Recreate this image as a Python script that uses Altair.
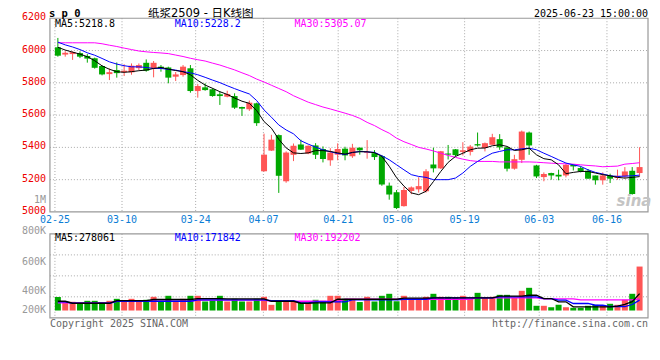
import altair as alt
import pandas as pd

# ---------------- data ----------------
tick_labels = ["02-25", "03-10", "03-24", "04-07", "04-21", "05-06", "05-19", "06-03", "06-16"]
tick_pos = [-0.4, 8.71, 18.71, 27.91, 38.07, 46.17, 55.24, 65.37, 74.57]
price_ticks = [5000, 5200, 5400, 5600, 5800, 6000, 6200]

opens = [6020, 5975, 5978, 5984, 5966, 5952, 5904, 5854, 5879, 5866,
         5865, 5891, 5924, 5889, 5900, 5895, 5838, 5848, 5890, 5749,
         5772, 5760, 5729, 5714, 5718, 5650, 5636, 5673, 5252, 5380,
         5476, 5190, 5354, 5418, 5362, 5412, 5390, 5320, 5355, 5392,
         5345, 5398, 5365, 5364, 5346, 5163, 5122, 5036, 5130, 5140,
         5128, 5294, 5270, 5362, 5388, 5372, 5372, 5420, 5396, 5416,
         5451, 5400, 5268, 5323, 5492, 5288, 5216, 5241, 5231, 5226,
         5292, 5272, 5255, 5226, 5196, 5224, 5210, 5220, 5255, 5241]
highs = [6078, 5996, 5996, 5995, 5978, 5956, 5908, 5889, 5926, 5915,
         5920, 5920, 5945, 5935, 5910, 5900, 5867, 5910, 5910, 5792,
         5797, 5766, 5745, 5751, 5735, 5652, 5690, 5677, 5485, 5478,
         5480, 5375, 5424, 5448, 5412, 5426, 5406, 5395, 5425, 5404,
         5422, 5400, 5445, 5383, 5353, 5182, 5136, 5155, 5158, 5215,
         5265, 5398, 5378, 5415, 5390, 5432, 5415, 5492, 5430, 5484,
         5482, 5402, 5354, 5504, 5498, 5292, 5245, 5243, 5262, 5298,
         5294, 5282, 5266, 5226, 5245, 5237, 5262, 5278, 5278, 5401]
lows = [5962, 5962, 5942, 5953, 5925, 5888, 5846, 5817, 5832, 5842,
        5850, 5879, 5869, 5834, 5869, 5797, 5811, 5838, 5739, 5708,
        5751, 5714, 5663, 5710, 5638, 5595, 5626, 5533, 5250, 5378,
        5118, 5181, 5315, 5385, 5358, 5328, 5307, 5286, 5320, 5320,
        5335, 5355, 5330, 5322, 5162, 5076, 5018, 5033, 5110, 5120,
        5120, 5245, 5266, 5325, 5345, 5350, 5350, 5405, 5375, 5416,
        5385, 5251, 5262, 5303, 5354, 5210, 5190, 5200, 5196, 5214,
        5257, 5245, 5206, 5169, 5169, 5179, 5200, 5206, 5107, 5220]
closes = [5968, 5986, 5990, 5962, 5950, 5893, 5852, 5866, 5860, 5875,
          5906, 5910, 5875, 5924, 5889, 5832, 5852, 5900, 5749, 5780,
          5755, 5718, 5718, 5731, 5646, 5640, 5677, 5550, 5355, 5448,
          5224, 5368, 5410, 5386, 5410, 5354, 5328, 5368, 5390, 5350,
          5398, 5382, 5370, 5340, 5170, 5108, 5024, 5136, 5152, 5160,
          5252, 5270, 5376, 5355, 5352, 5382, 5405, 5412, 5426, 5463,
          5400, 5268, 5327, 5498, 5412, 5220, 5235, 5226, 5220, 5292,
          5282, 5251, 5206, 5196, 5226, 5206, 5224, 5251, 5111, 5278]
ma5 = [6020, 6003, 5990, 5978, 5962, 5937, 5905, 5884, 5869, 5865,
       5869, 5875, 5879, 5889, 5895, 5885, 5876, 5869, 5850, 5815,
       5786, 5766, 5745, 5728, 5706, 5686, 5673, 5628, 5560, 5519,
       5450, 5397, 5366, 5362, 5366, 5380, 5380, 5375, 5366, 5358,
       5369, 5373, 5373, 5367, 5344, 5283, 5212, 5160, 5118, 5107,
       5128, 5188, 5251, 5307, 5344, 5364, 5385, 5395, 5396, 5410,
       5416, 5406, 5381, 5385, 5395, 5354, 5330, 5323, 5292, 5237,
       5245, 5251, 5251, 5241, 5231, 5224, 5214, 5210, 5214, 5219]
ma10 = [6052, 6035, 6022, 6006, 5986, 5971, 5951, 5930, 5916, 5906,
        5899, 5899, 5895, 5889, 5889, 5883, 5879, 5869, 5862, 5850,
        5834, 5817, 5801, 5782, 5764, 5747, 5731, 5690, 5632, 5587,
        5539, 5508, 5484, 5441, 5420, 5402, 5385, 5373, 5362, 5356,
        5368, 5375, 5372, 5369, 5348, 5323, 5292, 5261, 5231, 5220,
        5214, 5200, 5200, 5200, 5210, 5241, 5282, 5313, 5340, 5364,
        5375, 5385, 5385, 5391, 5395, 5385, 5364, 5344, 5323, 5303,
        5292, 5282, 5261, 5245, 5235, 5224, 5220, 5222, 5224, 5228]
ma30 = [6048, 6048, 6048, 6048, 6048, 6048, 6042, 6033, 6025, 6015,
        6006, 5997, 5992, 5988, 5985, 5981, 5972, 5963, 5952, 5943,
        5935, 5922, 5910, 5895, 5880, 5862, 5845, 5823, 5805, 5785,
        5765, 5745, 5720, 5700, 5680, 5665, 5650, 5638, 5625, 5612,
        5598, 5580, 5555, 5535, 5510, 5488, 5457, 5435, 5418, 5400,
        5390, 5378, 5364, 5350, 5338, 5327, 5318, 5313, 5313, 5313,
        5310, 5310, 5310, 5310, 5310, 5308, 5305, 5302, 5300, 5298,
        5296, 5292, 5288, 5285, 5280, 5282, 5284, 5296, 5300, 5305]
volumes = [223000, 144000, 144000, 124000, 160000, 160000, 132000, 160000, 193000, 160000,
           193000, 149000, 177000, 226000, 149000, 243000, 149000, 193000, 243000, 243000,
           149000, 165000, 243000, 149000, 193000, 149000, 149000, 193000, 226000, 94000,
           140000, 140000, 140000, 124000, 124000, 177000, 160000, 243000, 243000, 193000,
           193000, 140000, 226000, 149000, 243000, 276000, 153000, 243000, 193000, 182000,
           226000, 276000, 226000, 226000, 210000, 243000, 193000, 292000, 215000, 226000,
           259000, 259000, 210000, 325000, 375000, 78000, 78000, 54000, 94000, 54000,
           45000, 45000, 78000, 94000, 78000, 111000, 94000, 177000, 276000, 726000]
vol_ma5 = [153000, 153000, 120000, 120000, 120000, 120000, 120000, 120000, 165000, 165000,
           165000, 165000, 165000, 182000, 182000, 182000, 182000, 182000, 182000, 198000,
           198000, 198000, 198000, 193000, 193000, 193000, 193000, 193000, 193000, 153000,
           153000, 153000, 153000, 120000, 120000, 127000, 127000, 127000, 186000, 186000,
           186000, 186000, 186000, 186000, 186000, 186000, 186000, 203000, 203000, 203000,
           203000, 210000, 210000, 210000, 210000, 210000, 210000, 210000, 210000, 210000,
           236000, 236000, 236000, 236000, 252000, 252000, 198000, 198000, 144000, 144000,
           61000, 61000, 61000, 61000, 61000, 61000, 74000, 100000, 147000, 278061]
vol_ma10 = [144000, 144000, 120000, 120000, 120000, 120000, 120000, 120000, 153000, 153000,
            153000, 153000, 153000, 153000, 153000, 153000, 153000, 153000, 153000, 177000,
            177000, 177000, 177000, 177000, 177000, 177000, 177000, 177000, 177000, 165000,
            165000, 165000, 165000, 127000, 127000, 144000, 144000, 144000, 144000, 144000,
            177000, 177000, 177000, 177000, 177000, 177000, 177000, 186000, 186000, 186000,
            186000, 210000, 210000, 210000, 210000, 210000, 210000, 210000, 210000, 210000,
            226000, 226000, 226000, 226000, 226000, 226000, 198000, 198000, 170000, 170000,
            116000, 116000, 116000, 87000, 87000, 66000, 66000, 66000, 99000, 171842]
vol_ma30 = [127000, 127000, 127000, 127000, 127000, 127000, 127000, 127000, 153000, 153000,
            153000, 153000, 153000, 153000, 153000, 153000, 153000, 153000, 153000, 170000,
            170000, 170000, 170000, 170000, 170000, 170000, 170000, 170000, 170000, 153000,
            153000, 153000, 153000, 153000, 153000, 153000, 153000, 153000, 153000, 186000,
            186000, 186000, 186000, 186000, 186000, 186000, 186000, 186000, 186000, 186000,
            186000, 186000, 186000, 186000, 186000, 186000, 186000, 210000, 210000, 210000,
            210000, 210000, 210000, 210000, 210000, 210000, 193000, 193000, 193000, 193000,
            193000, 177000, 177000, 177000, 177000, 177000, 177000, 177000, 177000, 192202]

df = pd.DataFrame({
    "i": list(range(len(opens))), "open": opens, "high": highs, "low": lows, "close": closes,
    "vol": volumes, "ma5": ma5, "ma10": ma10, "ma30": ma30,
    "vma5": vol_ma5, "vma10": vol_ma10, "vma30": vol_ma30,
})

# ---------------- layout / style ----------------
W, H_MAIN, H_ALL, VOL_TOP = 599, 194, 300, 216
RED, GREEN = "#ff5555", "#00a800"
GRID, BORDER = "#aaaaaa", "#999999"
MONO = "DejaVu Sans Mono"
VMIN, VMAX = -120000, 1265000

xs = alt.Scale(domain=[-0.4, 79.4667], range=[0, W], nice=False, zero=False)
ps = alt.Scale(domain=[5000, 6200], range=[H_MAIN, 0], nice=False, zero=False)
vs = alt.Scale(domain=[VMIN, VMAX], range=[H_ALL, VOL_TOP], nice=False, zero=False)

X = alt.X("i:Q", scale=xs, axis=None)
updown = alt.condition("datum.close >= datum.open", alt.value(RED), alt.value(GREEN))
base = alt.Chart(df)
one = pd.DataFrame({"a": [0]})

tick_df = pd.DataFrame({"pos": tick_pos, "label": tick_labels})
pgrid_df = pd.DataFrame({"p": price_ticks[1:-1]})
plab_df = pd.DataFrame({"p": price_ticks, "lab": [str(v) for v in price_ticks]})
vgrid_df = pd.DataFrame({"v": [VMIN + k * (VMAX - VMIN) / 4 for k in (1, 2, 3)]})

# main panel
vgrid_main = alt.Chart(tick_df).mark_rule(color=GRID, strokeDash=[1, 2]).encode(
    x=alt.X("pos:Q", scale=xs, axis=None), y=alt.value(0), y2=alt.value(H_MAIN))
hgrid_main = alt.Chart(pgrid_df).mark_rule(color=GRID, strokeDash=[1, 2]).encode(
    y=alt.Y("p:Q", scale=ps, axis=None), x=alt.value(0), x2=alt.value(W))
frame_main = alt.Chart(one).mark_rect(fillOpacity=0, stroke=BORDER, strokeWidth=1.2).encode(
    x=alt.value(0), x2=alt.value(W), y=alt.value(0), y2=alt.value(H_MAIN))
wicks = base.mark_rule(strokeWidth=1).encode(
    x=X, y=alt.Y("low:Q", scale=ps, axis=None), y2="high:Q", color=updown)
bodies = base.mark_bar(size=6).encode(
    x=X, y=alt.Y("open:Q", scale=ps, axis=None), y2="close:Q", color=updown)


def line(field, color, scale, width=1):
    return base.mark_line(color=color, strokeWidth=width).encode(
        x=X, y=alt.Y(f"{field}:Q", scale=scale, axis=None))


price_group = alt.layer(vgrid_main, hgrid_main, frame_main, wicks, bodies,
                        line("ma30", "#ff00ff", ps), line("ma10", "#0000ff", ps),
                        line("ma5", "#000000", ps))

# volume panel
vgrid_vol = alt.Chart(tick_df).mark_rule(color=GRID, strokeDash=[1, 2]).encode(
    x=alt.X("pos:Q", scale=xs, axis=None), y=alt.value(VOL_TOP), y2=alt.value(H_ALL))
hgrid_vol = alt.Chart(vgrid_df).mark_rule(color=GRID, strokeDash=[1, 2]).encode(
    y=alt.Y("v:Q", scale=vs, axis=None), x=alt.value(0), x2=alt.value(W))
frame_vol = alt.Chart(one).mark_rect(fillOpacity=0, stroke=BORDER, strokeWidth=1.2).encode(
    x=alt.value(0), x2=alt.value(W), y=alt.value(VOL_TOP), y2=alt.value(H_ALL))
vbars = base.mark_bar(size=6).encode(
    x=X, y=alt.Y("vol:Q", scale=vs, axis=None), y2=alt.datum(0), color=updown)
vol_group = alt.layer(vgrid_vol, hgrid_vol, frame_vol, vbars,
                      line("vma30", "#ff00ff", vs, 1.3), line("vma10", "#0000ff", vs, 1.3),
                      line("vma5", "#000000", vs, 1.3))


def text(t, x, y, color="#000000", size=10, align="left", font=MONO, weight="normal", style="normal"):
    return alt.Chart(one).mark_text(text=t, color=color, fontSize=size, align=align,
                                    baseline="middle", font=font, fontWeight=weight,
                                    fontStyle=style).encode(x=alt.value(x), y=alt.value(y))


date_labels = alt.Chart(tick_df).mark_text(color="#0b7dd5", fontSize=10, font=MONO,
                                           baseline="middle").encode(
    x=alt.X("pos:Q", scale=xs, axis=None), y=alt.value(202), text="label:N")
price_labels = alt.Chart(plab_df).mark_text(color="#ee0000", fontSize=10, font=MONO,
                                            align="right", baseline="middle", dy=-1).encode(
    y=alt.Y("p:Q", scale=ps, axis=None), x=alt.value(-4), text="lab:N")

texts = [
    text("s p 0", -1, -4, size=10.5, weight="bold"),
    text("纸浆2509 - 日K线图", 151, -4.5, size=11.5, align="center",
         font="DejaVu Sans, Noto Sans CJK SC"),
    text("2025-06-23 15:00:00", W, -4, align="right"),
    text("MA5:5218.8", 5, 6),
    text("MA10:5228.2", 125, 6, color="#0000ff"),
    text("MA30:5305.07", 245, 6, color="#ff00ff"),
    text("MA5:278061", 5, 220.5),
    text("MA10:171842", 125, 220.5, color="#0000ff"),
    text("MA30:192202", 245, 220.5, color="#ff00ff"),
    text("1M", -4, 182, color="#999999", align="right"),
    text("800K", -4, 213, color="#999999", align="right"),
    text("600K", -4, 244, color="#999999", align="right"),
    text("400K", -4, 273, color="#999999", align="right"),
    text("200K", -4, 292, color="#999999", align="right"),
    text("Copyright 2025 SINA.COM", 0, 306, color="#666666"),
    text("http://finance.sina.com.cn", W, 306, color="#666666", align="right"),
    text("sina", 585, 183, color="#c4c4c4", size=15, align="center",
         font="DejaVu Sans", weight="bold", style="italic"),
]

chart = alt.layer(price_group, vol_group, date_labels, price_labels, *texts).resolve_scale(
    y="independent"
).properties(
    width=W, height=H_ALL,
    padding={"left": 42, "top": 10, "right": 4, "bottom": 30},
    autosize=alt.AutoSizeParams(type="none"),
    background="#ffffff",
).configure_view(strokeWidth=0)

chart.save("out.html", embed_options={"renderer": "svg", "actions": False})
